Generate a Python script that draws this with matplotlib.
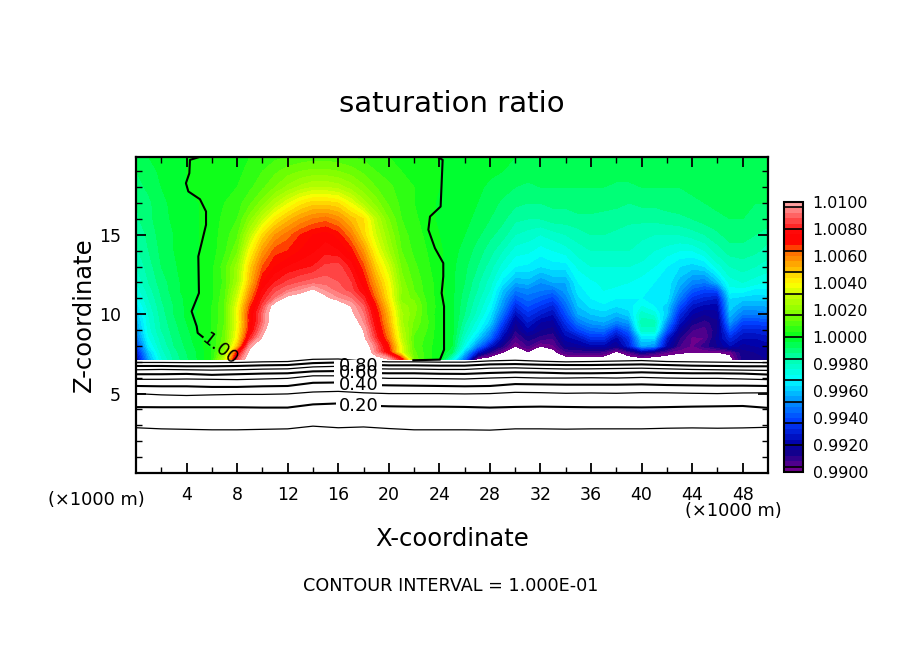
import numpy as np
import matplotlib
matplotlib.use("Agg")
import matplotlib.pyplot as plt
from matplotlib.colors import LinearSegmentedColormap

# shaded field, in units of 1e-4 around 1.0
x_km = np.arange(0, 51, 1)
z_km = [7.15, 7.6, 8, 8.5, 9, 9.5, 10, 10.5, 11, 11.5, 12, 13, 14, 15, 16, 17, 18, 19, 19.9]
sat_west = [
    [-80,-45,-25,-15, -9, -3,  4, 30, 85,110,115,115,115,115,115,115,115,115,115,108,100, 75, 15,  6,  0,-25],
    [-72,-40,-22,-14, -8, -3,  4, 20, 70,105,115,115,115,115,115,115,115,115,115, 92, 72, 35, 13,  6,  1, -8],
    [-64,-33,-20,-12, -7, -2,  4, 16, 48, 95,115,115,115,115,115,115,115,115,110, 90, 68, 35, 11,  6,  1, -4],
    [-54,-29,-18,-11, -6, -1,  4, 14, 40, 80,102,115,115,115,115,115,115,115,103, 82, 60, 30, 11,  7,  1, -3],
    [-48,-26,-16,-10, -5,  0,  4, 13, 38, 72, 95,115,115,115,115,115,115,115,100, 78, 56, 28, 13,  8,  1, -2],
    [-44,-25,-15, -9, -4,  0,  4, 12, 36, 70, 90,112,115,115,115,115,115,108, 95, 75, 52, 25, 15,  9,  1, -2],
    [-40,-24,-14, -8, -3,  1,  4, 12, 38, 70, 90,112,115,115,115,115,115,103, 92, 72, 50, 25, 17,  8,  1, -3],
    [-35,-22,-13, -8, -3,  0,  4, 12, 36, 66, 85,108,112,112,112,112,112,100, 88, 68, 46, 22, 18,  8,  2, -3],
    [-30,-20,-12, -7, -3,  0,  3, 11, 32, 60, 80, 92,104,107,108,103, 96, 92, 82, 62, 42, 18, 15,  7,  2, -3],
    [-27,-18,-11, -6, -2,  0,  3, 10, 28, 55, 76, 86, 92, 96,102, 95, 90, 86, 76, 58, 40, 20, 12,  6,  2, -3],
    [-24,-16,-10, -6, -2,  0,  3,  9, 24, 50, 72, 80, 85, 88, 90, 90, 88, 84, 72, 54, 38, 18, 11,  6,  2, -3],
    [-20,-14, -8, -5, -1,  0,  3, 10, 22, 46, 64, 72, 76, 78, 80, 85, 86, 78, 65, 46, 32, 15,  9,  5,  1, -3],
    [-17,-12, -7, -4, -1,  0,  2,  7, 15, 38, 55, 66, 68, 72, 75, 78, 76, 70, 56, 38, 24, 12,  7,  4,  1, -3],
    [-15,-11, -6, -4, -1,  0,  2,  6, 11, 28, 45, 56, 62, 68, 72, 74, 70, 60, 46, 32, 20, 10,  6,  3,  0, -3],
    [-13, -9, -6, -3, -1,  0,  2,  5,  8, 18, 30, 42, 50, 56, 60, 62, 58, 50, 44, 28, 16,  8,  5,  2, -1, -3],
    [-12, -9, -5, -3, -1,  0,  2,  4,  6, 11, 18, 27, 35, 42, 46, 46, 44, 36, 26, 18, 11,  7,  4,  2, -1, -3],
    [-10, -7, -4, -2,  0,  1,  2,  3,  4,  7, 11, 16, 21, 25, 28, 28, 26, 22, 17, 12,  9,  6,  4,  2,  0, -2],
    [ -8, -6, -3, -1,  0,  1,  2,  3,  3,  5,  8, 11, 14, 16, 17, 17, 16, 14, 11,  8,  6,  4,  3,  1,  0, -2],
    [ -6, -4, -2, -1,  0,  1,  1,  2,  3,  4,  5,  7,  8,  9, 10, 10,  9,  8,  7,  6,  4,  3,  2,  1,  0, -2],
]
sat_east = [
    [-55,-103,-106,-106,-106,-106,-106,-106,-106,-106,-106,-106,-106,-106,-106,-106,-106,-106,-106,-106,-106,-104,-86,-84,-84],
    [-40,-72,-90,-100,-103,-101,-103,-103,-93,-92,-92,-93,-102,-94,-84,-90,-96,-99,-100,-100,-100,-98,-86,-84,-82],
    [-28,-50,-72,-88,-100,-92,-100,-97,-84,-82,-78,-78,-85,-70,-44,-48,-78,-92,-97,-90,-84,-76,-82,-80,-78],
    [-22,-38,-55,-78,-94,-86,-90,-92,-78,-74,-66,-66,-78,-66,-36,-36,-72,-88,-97,-96,-82,-68,-76,-76,-74],
    [-18,-30,-46,-70,-88,-78,-84,-86,-72,-62,-55,-54,-66,-56,-22,-22,-58,-82,-92,-94,-85,-58,-70,-70,-68],
    [-15,-26,-38,-62,-84,-72,-80,-82,-66,-52,-46,-44,-50,-46,-18,-18,-48,-74,-86,-90,-85,-48,-62,-62,-60],
    [-12,-22,-34,-54,-76,-66,-72,-76,-60,-44,-40,-38,-42,-38,-22,-26,-40,-68,-80,-84,-82,-42,-52,-52,-50],
    [-11,-20,-30,-48,-68,-60,-65,-70,-55,-40,-35,-33,-36,-34,-28,-32,-38,-60,-74,-78,-78,-38,-45,-45,-44],
    [-10,-18,-27,-44,-60,-54,-58,-62,-50,-37,-32,-30,-32,-32,-32,-34,-34,-52,-66,-70,-72,-36,-38,-38,-38],
    [ -9,-16,-24,-40,-52,-50,-52,-54,-46,-34,-30,-28,-29,-30,-31,-33,-33,-46,-58,-62,-60,-30,-30,-34,-33],
    [ -8,-15,-22,-34,-44,-42,-48,-44,-44,-32,-29,-27,-27,-28,-30,-32,-33,-42,-50,-52,-42,-26,-24,-26,-28],
    [ -7,-12,-18,-26,-32,-33,-36,-34,-34,-27,-24,-24,-24,-24,-25,-28,-32,-36,-38,-36,-26,-20,-18,-20,-22],
    [ -5,-10,-14,-20,-26,-27,-30,-28,-26,-22,-20,-20,-20,-20,-22,-24,-26,-28,-28,-24,-18,-14,-14,-15,-18],
    [ -4, -7,-11,-14,-20,-22,-24,-22,-20,-18,-16,-16,-17,-18,-19,-20,-20,-20,-18,-16,-13,-10,-10,-12,-14],
    [ -3, -5, -8,-11,-15,-16,-16,-14,-14,-13,-13,-13,-14,-15,-15,-15,-14,-13,-12,-10, -9, -8, -8, -9,-10],
    [ -2, -4, -6, -9,-11,-12,-12,-11,-11,-10,-10,-11,-11,-12,-11,-11,-10,-10, -9, -8, -7, -7, -7, -8, -8],
    [ -2, -3, -5, -6, -8, -9, -8, -8, -8, -8, -8, -8, -9, -9, -8, -8, -8, -8, -7, -7, -6, -6, -6, -7, -7],
    [ -1, -2, -3, -4, -5, -6, -6, -6, -7, -7, -7, -6, -6, -6, -6, -6, -6, -6, -6, -5, -5, -5, -5, -5, -5],
    [ -1, -2, -3, -3, -4, -4, -5, -5, -5, -5, -5, -5, -5, -4, -4, -4, -4, -4, -4, -4, -4, -4, -4, -4, -4],
]
sat = np.hstack([sat_west, sat_east]) * 1e-4 + 1.0

# heights of the contour lines under the shading, one row per contour
iso_x = np.arange(0, 51, 2)
iso_values = [0.1, 0.2, 0.3, 0.4, 0.5, 0.6, 0.7, 0.8, 0.9]
iso_heights = [
    [2.85,2.78,2.75,2.72,2.72,2.75,2.78,2.95,2.85,2.90,2.80,2.72,2.72,2.72,2.70,2.78,2.78,2.76,2.78,2.78,2.78,2.82,2.84,2.82,2.84,2.88],
    [4.15,4.14,4.14,4.14,4.14,4.12,4.12,4.32,4.38,4.25,4.20,4.18,4.18,4.16,4.12,4.16,4.18,4.16,4.14,4.14,4.13,4.15,4.18,4.20,4.22,4.10],
    [5.00,4.92,4.88,4.92,4.95,4.95,4.98,5.10,5.14,5.05,5.00,5.00,5.00,4.98,5.00,5.08,5.06,5.02,5.04,5.02,5.06,5.05,5.02,5.00,5.04,5.05],
    [5.48,5.46,5.46,5.42,5.42,5.46,5.48,5.68,5.70,5.55,5.52,5.50,5.48,5.46,5.48,5.60,5.58,5.56,5.56,5.56,5.58,5.54,5.52,5.50,5.50,5.48],
    [5.90,5.90,5.92,5.90,5.88,5.92,5.96,6.12,6.12,6.02,5.96,5.96,5.94,5.92,5.98,6.02,5.98,5.98,6.00,5.98,6.02,5.98,5.96,5.96,5.92,5.88],
    [6.22,6.22,6.24,6.18,6.22,6.26,6.28,6.40,6.42,6.30,6.28,6.28,6.25,6.24,6.30,6.34,6.32,6.28,6.28,6.30,6.34,6.30,6.28,6.28,6.26,6.20],
    [6.50,6.52,6.50,6.48,6.50,6.54,6.56,6.68,6.72,6.58,6.55,6.55,6.52,6.52,6.60,6.62,6.58,6.55,6.56,6.58,6.60,6.56,6.52,6.50,6.48,6.46],
    [6.74,6.74,6.72,6.72,6.74,6.78,6.80,6.92,6.96,6.82,6.78,6.78,6.76,6.76,6.84,6.86,6.82,6.80,6.80,6.82,6.84,6.80,6.76,6.74,6.72,6.72],
    [6.96,6.96,6.95,6.95,6.96,7.00,7.02,7.16,7.18,7.05,7.00,7.00,6.98,6.98,7.06,7.10,7.04,7.00,7.02,7.05,7.08,7.02,7.00,6.98,6.96,6.95],
]
iso_labels = {0.2: (17.6, 4.25), 0.4: (17.6, 5.55), 0.6: (17.6, 6.3), 0.8: (17.6, 6.72)}

# the 1.00 contour above the bottom of the shading
left_x = [4.93,4.27,4.22,3.95,4.14,5.06,5.54,5.54,5.19,4.93,4.98,4.40,4.80,4.88,5.27]
left_z = [19.88,19.72,18.88,18.25,17.73,17.24,16.47,15.63,14.48,13.64,11.33,10.18,9.24,8.82,8.57]
right_x = [23.92,24.26,24.18,24.10,23.26,23.13,23.65,24.31,24.31,24.18,24.37,24.37,24.05,21.94]
right_z = [19.88,19.72,18.25,16.78,16.15,15.32,14.16,13.22,12.38,11.33,10.49,7.77,7.14,7.10]

levels = np.linspace(0.99, 1.01, 51)
bar_lines = np.arange(0.9904, 1.0100, 0.0016)
bar_ticks = np.arange(0.99, 1.0101, 0.002)
x_major = np.arange(4, 49, 4)
x_minor = np.arange(2, 50, 2)
z_major = [5, 10, 15]
z_minor = np.arange(1, 20)

anchors = [
    (0.00, (110, 0, 140)), (0.06, (20, 0, 140)), (0.10, (0, 0, 170)), (0.18, (0, 60, 255)),
    (0.26, (0, 150, 255)), (0.34, (0, 255, 255)), (0.42, (0, 255, 170)), (0.50, (0, 255, 30)),
    (0.58, (120, 255, 0)), (0.66, (200, 255, 0)), (0.70, (255, 255, 0)), (0.74, (255, 210, 0)),
    (0.82, (255, 110, 0)), (0.86, (255, 0, 0)), (0.90, (255, 10, 10)), (0.98, (255, 130, 130)),
    (1.00, (255, 160, 160)),
]
cmap = LinearSegmentedColormap.from_list(
    "sat", [(p, tuple(c / 255 for c in rgb)) for p, rgb in anchors], N=50)

fig = plt.figure(figsize=(9.04, 6.54), dpi=100)
ax = fig.add_axes([136 / 904, 1 - 473 / 654, 632 / 904, 316 / 654])
cf = ax.contourf(x_km, z_km, sat, levels=levels, cmap=cmap, antialiased=False)

for val, heights in zip(iso_values, iso_heights):
    ax.plot(iso_x, heights, color="black", lw=1.5 if val in iso_labels else 0.9, zorder=3)

# gap in the lines where the labels sit
ax.fill_between([15.7, 19.5], 5.2, 7.1, color="white", lw=0, zorder=3.5)
for val, pos in iso_labels.items():
    ax.text(*pos, f"{val:.2f}", fontsize=13, ha="center", va="center", zorder=4,
            bbox=dict(facecolor="white", edgecolor="none", pad=2) if val == 0.2 else None)

ax.plot(left_x, left_z, color="black", lw=1.5, zorder=3)
ax.plot(right_x, right_z, color="black", lw=1.5, zorder=3)
ax.text(6.65, 7.78, "1.00", fontsize=13, rotation=-38, ha="center", va="center", zorder=4)

ax.set_xlim(0, 50)
ax.set_ylim(0, 19.9)
ax.set_xticks(x_major)
ax.set_xticks(x_minor, minor=True)
ax.set_yticks(z_major)
ax.set_yticks(z_minor, minor=True)
ax.tick_params(which="major", direction="in", top=True, right=True, length=7, width=1.3, labelsize=12.5)
ax.tick_params(which="minor", direction="in", top=True, right=True, length=4, width=1)
ax.tick_params(axis="x", which="major", pad=9)
ax.tick_params(axis="y", which="major", pad=11)
for side in ax.spines.values():
    side.set_linewidth(1.6)

cax = fig.add_axes([784 / 904, 1 - 472 / 654, 19 / 904, 270 / 654])
cb = fig.colorbar(cf, cax=cax, ticks=bar_ticks, format="%.4f")
cb.ax.tick_params(length=0, labelsize=11.4, pad=7)
cb.solids.set_antialiased(False)
cb.outline.set_linewidth(1.5)
cb.ax.hlines(bar_lines, 0, 1, transform=cb.ax.get_yaxis_transform(), color="black", lw=1.2)

fig.text(452 / 904, 1 - 104 / 654, "saturation ratio", fontsize=21, ha="center", va="center")
fig.text(84 / 904, 1 - 315 / 654, "Z-coordinate", fontsize=17.5, rotation=90, ha="center", va="center")
fig.text(452 / 904, 1 - 539 / 654, "X-coordinate", fontsize=17.5, ha="center", va="center")
fig.text(451 / 904, 1 - 586 / 654, "CONTOUR INTERVAL = 1.000E-01", fontsize=12.7, ha="center", va="center")
fig.text(96 / 904, 1 - 500 / 654, "(×1000 m)", fontsize=12.8, ha="center", va="center")
fig.text(733 / 904, 1 - 511 / 654, "(×1000 m)", fontsize=12.8, ha="center", va="center")

fig.savefig("out.png", dpi=100)
